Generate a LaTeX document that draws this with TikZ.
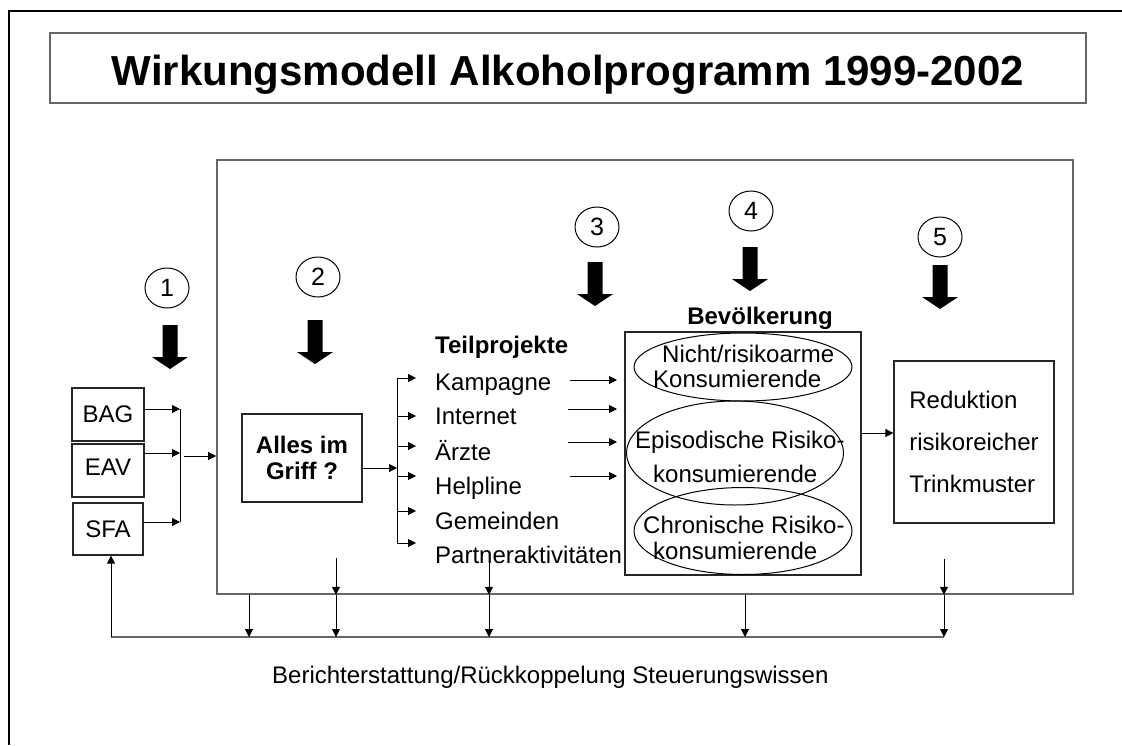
\documentclass[tikz,border=0pt]{standalone}
\usepackage{fontspec}
\setmainfont{Liberation Sans}
\usetikzlibrary{arrows.meta,shapes.geometric}
\newcommand\myfs{\fontsize{24}{28}\selectfont}
\begin{document}
\begin{tikzpicture}[x=1pt,y=-1pt,
  box/.style={draw=black!85,line width=1.2pt,inner sep=0,rectangle,font=\myfs},
  frame/.style={draw=black!60,line width=1.6pt},
  txt/.style={inner sep=0,anchor=base west,font=\myfs},
  oval/.style={draw,ellipse,inner sep=0,line width=1pt},
  numc/.style={draw,ellipse,inner sep=0,minimum width=44,minimum height=40,line width=1pt,font=\fontsize{25}{28}\selectfont},
  arr/.style={-{Triangle[length=8pt,width=8pt]},line width=1pt},
  ln/.style={line width=1pt},
  bigdown/.pic={\fill (-7.5,0) -- (7.5,0) -- (7.5,32) -- (18,32) -- (0,44) -- (-18,32) -- (-7.5,32) -- cycle;}
]
\useasboundingbox (0,0) rectangle (1122,745);
% outer frame
\draw[line width=2.5pt] (9,745) -- (9,11) -- (1122,11);
% title
\node[frame,rectangle,inner sep=0,minimum width=1036,minimum height=70] (title) at (568,68) {};
\node[inner sep=0,anchor=base,font=\fontsize{42}{48}\selectfont\bfseries] (titletext) at (568,85) {Wirkungsmodell Alkoholprogramm 1999-2002};
% big box
\node[frame,rectangle,inner sep=0,minimum width=856,minimum height=434] (big) at (645,377) {};
% numbered circles and big arrows
\node[numc] (n1) at (167,288) {1}; \pic at (170,325) {bigdown};
\node[numc] (n2) at (318,277) {2}; \pic at (315,320) {bigdown};
\node[numc] (n3) at (597,227) {3}; \pic at (595,262) {bigdown};
\node[numc] (n4) at (751,211) {4}; \pic at (750,247) {bigdown};
\node[numc] (n5) at (940,237) {5}; \pic at (940,265) {bigdown};
% left boxes
\node[box,minimum width=72,minimum height=53] (bag) at (108,414.5) {BAG};
\node[box,minimum width=72,minimum height=53,text depth=6pt] (eav) at (108,470.5) {EAV};
\node[box,minimum width=70,minimum height=52] (sfa) at (108,529) {SFA};
\coordinate (jb) at (180,409);
\coordinate (je) at (180,453);
\coordinate (js) at (180,522);
\coordinate (jo) at (184,456);
\draw[arr] (bag.east |- jb) -- (jb);
\draw[arr] (eav.east |- je) -- (je);
\draw[arr] (sfa.east |- js) -- (js);
\draw[ln] (jb) -- (js);
\draw[arr] (jo) -- (jo -| big.west);
% Alles im Griff
\node[box,minimum width=120,minimum height=88,align=center,font=\fontsize{24}{26}\selectfont\bfseries] (alles) at (302,458) {Alles im\\ Griff ?};
\coordinate (bin) at (397,468);
\draw[arr] (alles.east |- bin) -- (bin);
\coordinate (btop) at (397,378);
\coordinate (bbot) at (397,543);
\draw[ln] (btop) -- (bbot);
\foreach \yy [count=\i] in {378,416,446,476,511,543}{
  \coordinate (bs\i) at (397,\yy);
  \coordinate (be\i) at (416,\yy);
  \draw[arr] (bs\i) -- (be\i);
}
% Teilprojekte
\node[txt,font=\myfs\bfseries] (tp) at (435,353) {Teilprojekte};
\node[txt] (t1) at (435,390) {Kampagne};
\node[txt] (t2) at (435,424) {Internet};
\node[txt] (t3) at (435,460) {Ärzte};
\node[txt] (t4) at (435,494) {Helpline};
\node[txt] (t5) at (435,529) {Gemeinden};
\node[txt] (t6) at (435,563) {Partneraktivitäten};
% Bevoelkerung
\node[box,minimum width=236,minimum height=243] (bev) at (743,453.5) {};
\node[inner sep=0,anchor=base,font=\myfs\bfseries] (bevt) at (760,324) {Bevölkerung};
\foreach \xs/\yy [count=\i] in {570/380,568/409,568/442,570/476}{
  \coordinate (ks\i) at (\xs,\yy);
  \coordinate (ke\i) at (617,\yy);
  \draw[arr] (ks\i) -- (ke\i);
}
\node[oval,minimum width=218,minimum height=68] (e1) at (743,367) {};
\node[oval,minimum width=217,minimum height=104] (e2) at (735,453) {};
\node[oval,minimum width=218,minimum height=87] (e3) at (743,531) {};
\node[txt] (e1a) at (662,362) {Nicht/risikoarme};
\node[txt] (e1b) at (653,387) {Konsumierende};
\node[txt] (e2a) at (635,448) {Episodische Risiko-};
\node[txt] (e2b) at (653,482) {konsumierende};
\node[txt] (e3a) at (643,533) {Chronische Risiko-};
\node[txt] (e3b) at (653,559) {konsumierende};
% Reduktion
\node[box,minimum width=160,minimum height=162,align=left,font=\fontsize{24}{42}\selectfont] (red) at (974,442) {Reduktion\\risikoreicher\\Trinkmuster};
\coordinate (rb) at (894,433);
\draw[arr] (rb -| bev.east) -- (rb -| red.west);
% feedback
\coordinate (fbL) at (111,637);
\coordinate (fbR) at (944,637);
\draw[frame] (fbL) -- (fbR);
\draw[arr] (fbL) -- (fbL |- sfa.south);
\foreach \xx [count=\i] in {249,336,489,745,944}{
  \coordinate (d\i) at (\xx,637);
  \draw[arr] (d\i |- big.south) -- (d\i);
}
\coordinate (u2) at (336,558);
\coordinate (u3) at (489,560);
\coordinate (u5) at (944,559);
\draw[arr] (u2) -- (u2 |- big.south);
\draw[arr] (u3) -- (u3 |- big.south);
\draw[arr] (u5) -- (u5 |- big.south);
\node[txt] (bt) at (272,683) {Berichterstattung/Rückkoppelung Steuerungswissen};
\end{tikzpicture}
\end{document}
